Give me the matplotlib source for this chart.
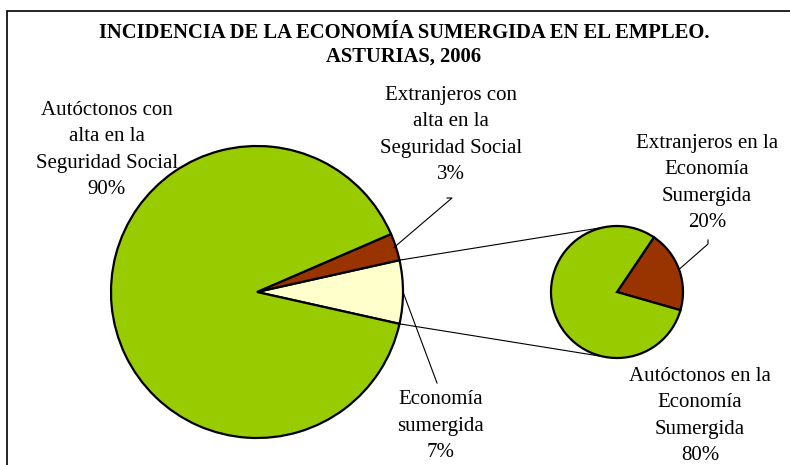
import matplotlib.pyplot as plt
import numpy as np

# Datos: economía sumergida en el empleo, Asturias 2006
main_labels = ["Economía\nsumergida\n7%",
               "Extranjeros con\nalta en la\nSeguridad Social\n3%",
               "Autóctonos con\nalta en la\nSeguridad Social\n90%"]
main_values = [7, 3, 90]
main_colors = ["#FFFFCC", "#993300", "#99CC00"]

sub_labels = ["Extranjeros en la\nEconomía\nSumergida\n20%",
              "Autóctonos en la\nEconomía\nSumergida\n80%"]
sub_values = [20, 80]
sub_colors = ["#993300", "#99CC00"]

W, H = 790, 465
fig = plt.figure(figsize=(W / 100, H / 100), dpi=100)
ax = fig.add_axes([0, 0, 1, 1])

serif = ["Liberation Serif", "DejaVu Serif"]
fs = 15

def py(y):
    # coordenadas de pantalla (y hacia abajo) -> datos
    return H - y

def on_circle(c, r, ang):
    a = np.deg2rad(ang)
    return c[0] + r * np.cos(a), c[1] + r * np.sin(a)

# tarta principal: la porción de economía sumergida centrada a la derecha
c1, r1 = (257, py(292)), 146
start1 = -main_values[0] / 2 * 3.6
ax.pie(main_values, colors=main_colors, startangle=start1, center=c1, radius=r1,
       wedgeprops=dict(edgecolor="black", linewidth=1.6), frame=True)

# tarta secundaria: desglose de la economía sumergida
c2, r2 = (617, py(292)), 66
start2 = -16
ax.pie(sub_values, colors=sub_colors, startangle=start2, center=c2, radius=r2,
       wedgeprops=dict(edgecolor="black", linewidth=1.6), frame=True)

ax.set_xlim(0, W)
ax.set_ylim(0, H)
ax.set_aspect("equal")
ax.axis("off")

# marco del gráfico (solo visibles borde izquierdo y superior)
ax.plot([7, 7, W], [0, py(11), py(11)], color="black", lw=1.2, solid_joinstyle="miter")

ax.text(404, py(33), "INCIDENCIA DE LA ECONOMÍA SUMERGIDA EN EL EMPLEO.",
        ha="center", va="center", fontsize=14.9, fontweight="bold", family=serif)
ax.text(404, py(57), "ASTURIAS, 2006",
        ha="center", va="center", fontsize=14.9, fontweight="bold", family=serif)

# líneas de unión entre ambas tartas
for sign in (1, -1):
    p1 = on_circle(c1, r1, sign * abs(start1))
    p2 = on_circle(c2, r2, sign * 100)
    ax.plot([p1[0], p2[0]], [p1[1], p2[1]], color="black", lw=0.8)

# etiquetas
kw = dict(ha="center", va="center", fontsize=fs, family=serif, linespacing=1.52)
ax.text(107, py(150), main_labels[2], **kw)
ax.text(451, py(135), main_labels[1], **kw)
ax.text(441, py(426), main_labels[0], **kw)
ax.text(707, py(183), sub_labels[0], **kw)
ax.text(700, py(416), sub_labels[1], **kw)

# líneas guía
mid_ext = start1 + (main_values[0] + main_values[1] / 2) * 3.6
px, pyy = on_circle(c1, r1 - 2, mid_ext)
ax.plot([447, 452, px], [py(198), py(198), pyy], color="black", lw=0.8)
px, pyy = on_circle(c1, r1, 0)
ax.plot([px, 437], [pyy, py(383)], color="black", lw=0.8)
mid_sub = start2 + sub_values[0] / 2 * 3.6
px, pyy = on_circle(c2, r2, mid_sub)
ax.plot([px, 708, 708], [pyy, py(244), py(240)], color="black", lw=0.8)

fig.savefig("out.png", dpi=100)
